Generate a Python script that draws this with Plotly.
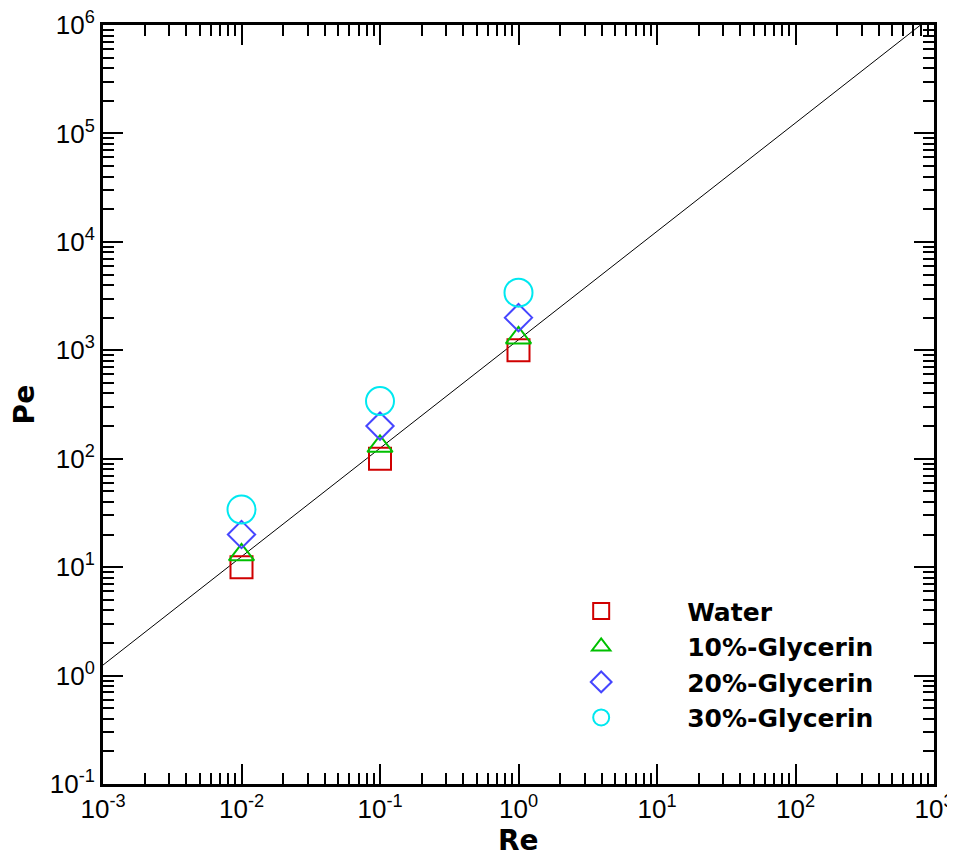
import plotly.graph_objects as go

re_vals = [0.01, 0.1, 1.0]
pe_water = [10, 100, 1000]
pe_gly10 = [13, 130, 1300]
pe_gly20 = [20, 200, 2000]
pe_gly30 = [34, 340, 3400]

line_re = [1e-3, 1e3]
line_pe = [1.25, 1.25e6]

x_exps = [-3, -2, -1, 0, 1, 2, 3]
y_exps = [-1, 0, 1, 2, 3, 4, 5, 6]

series = [
    ("Water", pe_water, "square-open", 22, "#d00000"),
    ("10%-Glycerin", pe_gly10, "triangle-up-open", 22, "#00c000"),
    ("20%-Glycerin", pe_gly20, "diamond-open", 21, "#4646ff"),
    ("30%-Glycerin", pe_gly30, "circle-open", 28, "#00e8f0"),
]


def major(exps):
    return [10.0 ** e for e in exps]


def labels(exps):
    return ["10<sup>%d</sup>" % e for e in exps]


def minors(exps):
    return [m * 10.0 ** e for e in exps[:-1] for m in range(2, 10)]


fig = go.Figure()
fig.add_trace(go.Scatter(x=line_re, y=line_pe, mode="lines",
                         line=dict(color="black", width=1), showlegend=False,
                         hoverinfo="skip"))
for i, (name, vals, sym, sz, col) in enumerate(series):
    fig.add_trace(go.Scatter(x=re_vals, y=vals, mode="markers", name=name,
                             marker=dict(symbol=sym, size=sz, color=col,
                                         line=dict(color=col, width=2))))

FONT = "Liberation Sans, Arial"
BOLD = "DejaVu Sans"
axis_common = dict(
    type="log", showgrid=False, zeroline=False, automargin=False,
    showline=True, linecolor="black", linewidth=3, mirror="allticks",
    ticks="inside", ticklen=20, tickwidth=2, tickcolor="black",
    tickmode="array", ticklabeloverflow="allow",
    tickfont=dict(family=FONT, size=26, color="black"),
)

fig.update_xaxes(range=[-3, 3], tickvals=major(x_exps), ticktext=labels(x_exps),
                 minor=dict(tickmode="array", tickvals=minors(x_exps), ticks="inside",
                            ticklen=11, tickwidth=1.5, tickcolor="black", showgrid=False),
                 **axis_common)
fig.update_yaxes(range=[-1, 6], tickvals=major(y_exps), ticktext=labels(y_exps),
                 minor=dict(tickmode="array", tickvals=minors(y_exps), ticks="inside",
                            ticklen=11, tickwidth=1.5, tickcolor="black", showgrid=False),
                 **axis_common)

# page has an 8px body margin; the figure is sized to fit the window
fig.add_annotation(text="<b>Re</b>", xref="paper", yref="paper", x=0.5, y=-0.075,
                   showarrow=False, xanchor="center", yanchor="middle",
                   font=dict(family=BOLD, size=28, color="black"))
fig.add_annotation(text="<b>Pe</b>", xref="paper", yref="paper", x=-0.094, y=0.5,
                   showarrow=False, xanchor="center", yanchor="middle", textangle=-90,
                   font=dict(family=BOLD, size=28, color="black"))

fig.update_layout(
    width=947, height=850,
    margin=dict(l=95, r=21, t=17, b=74),
    plot_bgcolor="white", paper_bgcolor="white",
    legend=dict(x=0.496, y=0.258, xanchor="left", yanchor="top",
                font=dict(family=BOLD, size=25, color="black", weight="bold"),
                bgcolor="rgba(0,0,0,0)", itemwidth=162),
)

fig.write_html("out.html")
